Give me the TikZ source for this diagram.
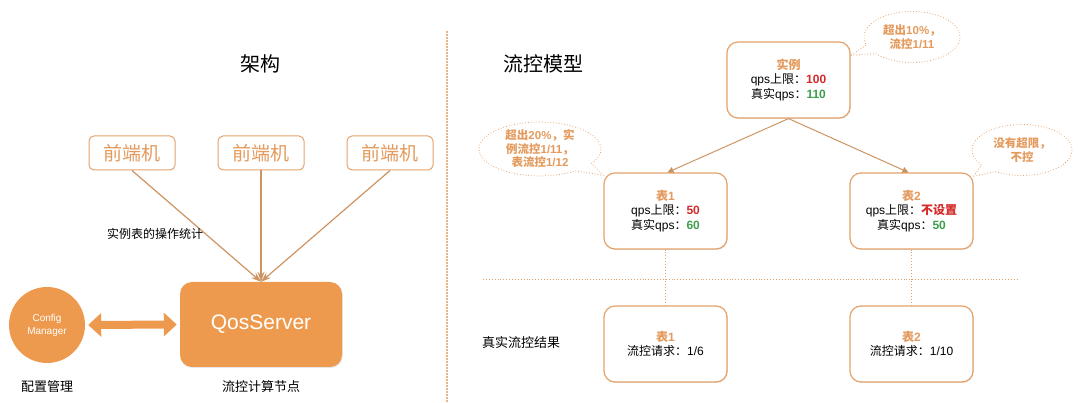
\documentclass[tikz,border=0pt]{standalone}
\usepackage{fontspec}
\setmainfont{Noto Sans CJK SC}
\newfontfamily\lat{Liberation Sans}
\usetikzlibrary{shapes.callouts,shapes.geometric,arrows.meta,shadows}
\definecolor{org}{HTML}{EE9A4E}
\definecolor{orgline}{HTML}{E4A36C}
\definecolor{orgtext}{HTML}{E39A5C}
\definecolor{redv}{HTML}{D42B2B}
\definecolor{greenv}{HTML}{3E9E4D}
\newcommand{\rv}[1]{{\color{redv}\bfseries #1}}
\newcommand{\gv}[1]{{\color{greenv}\lat\bfseries #1}}
\newcommand{\hd}[1]{{\color{orgtext}\bfseries #1}}
\begin{document}
\begin{tikzpicture}[x=1pt,y=-1pt,
  front/.style={draw=orgline, line width=1pt, rounded corners=5pt, minimum width=86pt, minimum height=34pt, text=orgtext, font=\fontsize{19}{19}\selectfont},
  box/.style={draw=orgline, line width=1.2pt, rounded corners=11pt, minimum width=123pt, minimum height=76pt, fill=white, align=center, font=\fontsize{12}{14.5}\selectfont, drop shadow={shadow xshift=0.8pt, shadow yshift=-1pt, opacity=0.2}},
  bubble/.style={ellipse callout, draw=orgline, dotted, line width=0.8pt, inner sep=0pt, align=center, text=orgtext, callout pointer arc=22, font=\fontsize{11.5}{13.5}\selectfont\bfseries},
  conn/.style={draw=orgline!90!black, line width=1.2pt},
  lbl/.style={font=\fontsize{13}{13}\selectfont},
  title/.style={font=\fontsize{20}{20}\selectfont}
]
\useasboundingbox (0,0) rectangle (1080,403);
% divider
\draw[orgline!80, dash pattern=on 2pt off 1pt, line width=1.2pt] (447,31) -- (447,403);

% ---- left: architecture
\node[title] (tarch) at (260,64) {架构};
\node[front] (f1) at (132,153) {前端机};
\node[front] (f2) at (261,153) {前端机};
\node[front] (f3) at (390,153) {前端机};
\node[fill=org, rounded corners=12pt, minimum width=162pt, minimum height=85pt, text=white, font=\lat\fontsize{21}{21}\selectfont, drop shadow={shadow xshift=0.8pt, shadow yshift=-1pt, opacity=0.2}] (qos) at (261,324.5) {QosServer};
\node[circle, fill=org, minimum size=76pt, text=white, align=center, inner sep=0pt, font=\lat\fontsize{10}{13}\selectfont] (cm) at (47,325) {Config\\Manager};
\foreach \f in {f1,f2,f3}
  \draw[conn, -{Stealth[length=10pt,width=7pt]}] (\f.south) -- (qos.north);
\draw[org, line width=8pt, {Triangle[length=13pt,width=23pt]}-{Triangle[length=13pt,width=23pt]}, shorten <=3pt, shorten >=3pt] (cm.east) -- (qos.west);
\node[font=\fontsize{12}{12}\selectfont] (lstat) at (155,234) {实例表的操作统计};
\node[lbl] (lcm) at (47,387) {配置管理};
\node[lbl] (lqos) at (261,387) {流控计算节点};

% ---- right: model
\node[title] (tmodel) at (543,64) {流控模型};
\node[box] (inst) at (788.5,80) {\hd{实例}\\{\lat qps}上限：\rv{\lat 100}\\真实{\lat qps}：\gv{110}};
\node[box] (t1) at (665.5,211) {\hd{表{\lat 1}}\\{\lat qps}上限：\rv{\lat 50}\\真实{\lat qps}：\gv{60}};
\node[box] (t2) at (911.5,211) {\hd{表{\lat 2}}\\{\lat qps}上限：\rv{不设置}\\真实{\lat qps}：\gv{50}};
\node[box] (r1) at (665.5,344) {\hd{表{\lat 1}}\\流控请求：{\lat 1/6}};
\node[box] (r2) at (911.5,344) {\hd{表{\lat 2}}\\流控请求：{\lat 1/10}};
\draw[conn, line width=1pt, -{Triangle[length=6pt,width=6pt]}] (inst.south) -- ([xshift=2pt]t1.north);
\draw[conn, line width=1pt, -{Triangle[length=6pt,width=6pt]}] (inst.south) -- ([xshift=-3pt]t2.north);
\node[bubble, minimum width=96pt, minimum height=51pt, callout absolute pointer={([yshift=-14pt]inst.north east)}] (b1) at (912,37) {超出{\lat 10\%}，\\流控{\lat 1/11}};
\node[bubble, minimum width=122pt, minimum height=52pt, callout absolute pointer={([yshift=-3pt]t1.north west)}] (b2) at (540,149) {超出{\lat 20\%}，实\\例流控{\lat 1/11}，\\表流控{\lat 1/12}};
\node[bubble, minimum width=100pt, minimum height=51pt, callout absolute pointer={([yshift=-4pt]t2.north east)}] (b3) at (1022,150) {没有超限，\\不控};
\coordinate (hl) at (483,279);
\coordinate (hr) at (1017,279);
\draw[orgline, dotted, line width=0.9pt] (hl) -- (hr);
\draw[orgline, dotted, line width=0.9pt] (t1.south) -- (r1.north);
\draw[orgline, dotted, line width=0.9pt] (t2.south) -- (r2.north);
\node[lbl] (lres) at (521,343) {真实流控结果};
\end{tikzpicture}
\end{document}
